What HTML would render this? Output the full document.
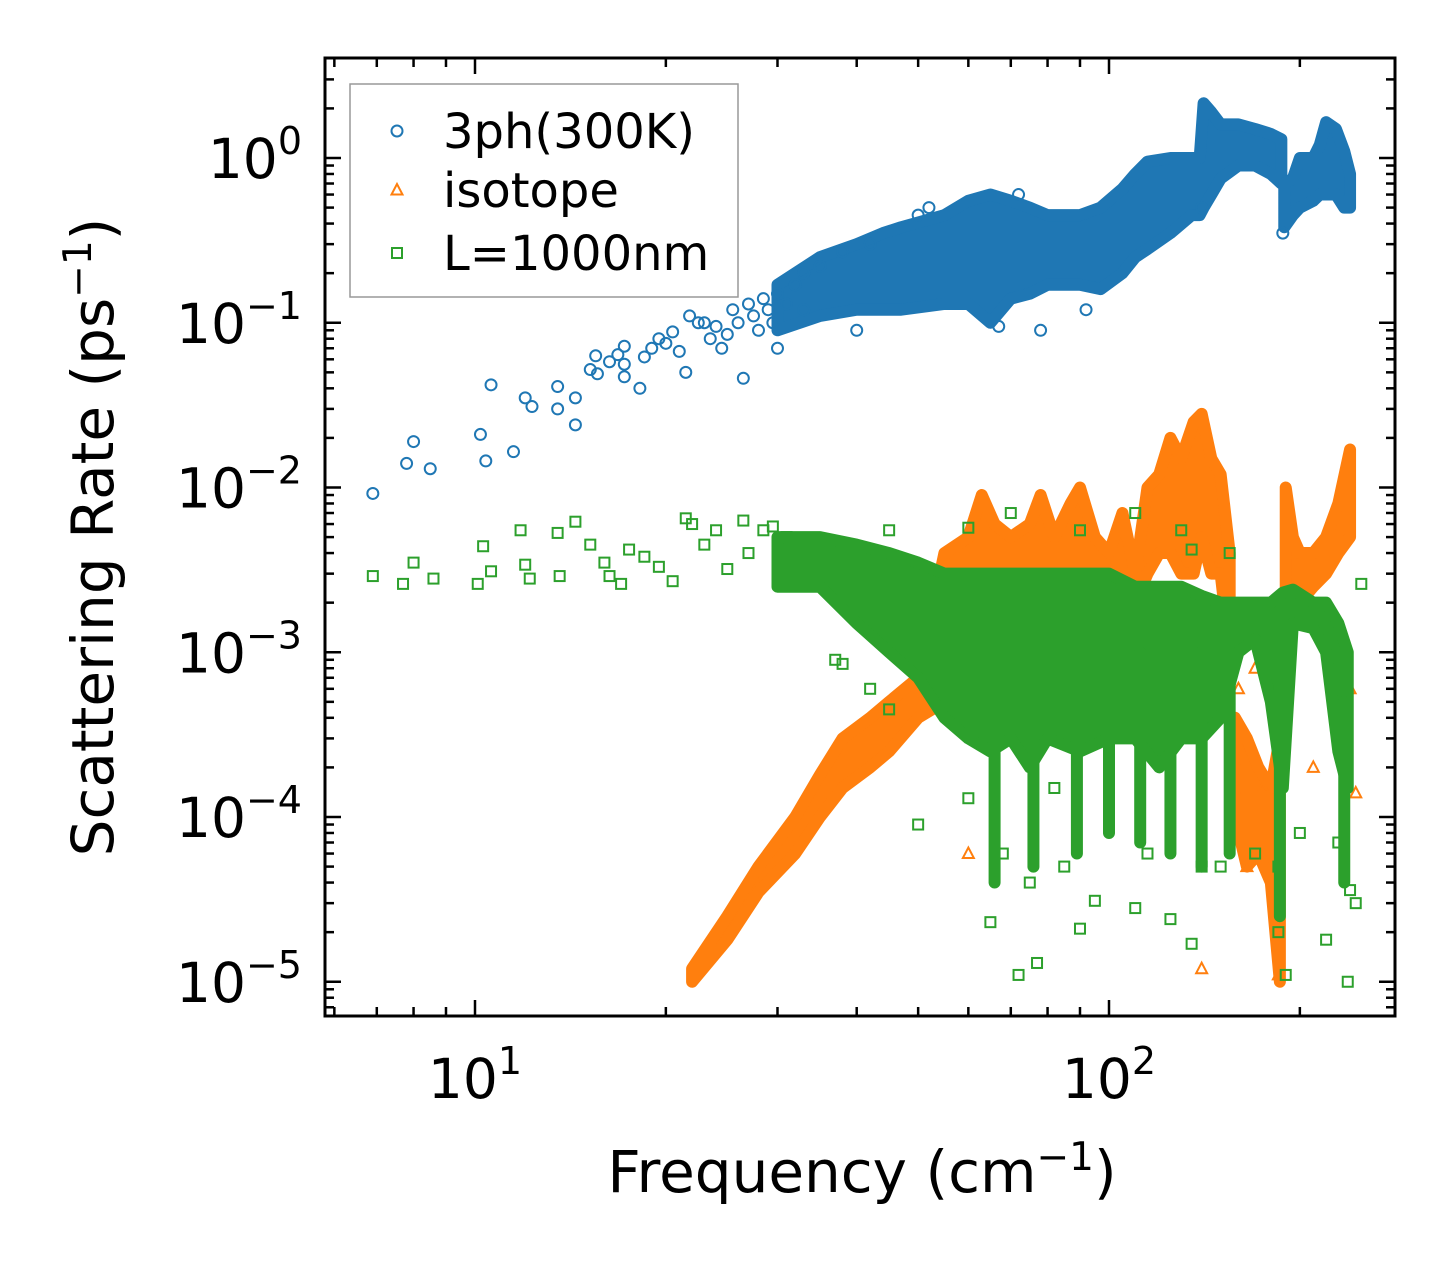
<!DOCTYPE html>
<html><head><meta charset="utf-8"><style>
html,body{margin:0;padding:0;background:#fff;}
svg{display:block;font-family:"DejaVu Sans","Liberation Sans",sans-serif;}
</style></head><body>
<svg id="chart" width="1455" height="1265" viewBox="0 0 1455 1265" xmlns="http://www.w3.org/2000/svg">
<rect width="1455" height="1265" fill="#fff"/>
<g id="plot"></g>
<g id="axes"></g>
<g id="legend"></g>
<text x="862" y="1192" font-size="58" text-anchor="middle">Frequency (cm<tspan dy="-22" font-size="39">−1</tspan><tspan dy="22">)</tspan></text>
<text transform="translate(113,537) rotate(-90)" font-size="58" text-anchor="middle">Scattering Rate (ps<tspan dy="-22" font-size="39">−1</tspan><tspan dy="22">)</tspan></text>
</svg>
<script>
// ---- data ----
const xTicks = [10, 100];
const xTickExp = ["1", "2"];
const yTicks = [1, 0.1, 0.01, 0.001, 0.0001, 0.00001];
const yTickExp = ["0", "−1", "−2", "−3", "−4", "−5"];
const seriesNames = ["3ph(300K)", "isotope", "L=1000nm"];

// dense bands: [freq, low, high]
const blueBandA = [[30,0.09,0.17],[35,0.11,0.25],[40,0.12,0.3],[44,0.12,0.35],[47,0.12,0.38],[55,0.13,0.45],[60,0.13,0.55],[65,0.1,0.6],[70,0.14,0.55],[75,0.15,0.5],[80,0.17,0.45],[90,0.17,0.45],[97,0.16,0.5],[105,0.2,0.65],[110,0.25,0.8],[115,0.28,0.95],[125,0.35,1.0],[135,0.45,1.0],[139,0.45,1.0],[141,0.5,2.15],[145,0.6,1.9],[150,0.75,1.6],[160,0.9,1.6],[170,0.9,1.5],[180,0.8,1.4],[187,0.7,1.3]];
const blueBandB = [[189,0.38,0.7],[195,0.45,0.75],[200,0.5,1.0],[210,0.55,1.0],[215,0.6,1.2],[220,0.6,1.65],[228,0.6,1.5],[235,0.5,1.1],[240,0.5,0.8]];
const bluePoints = [[6.9,9.2e-3],[7.8,1.4e-2],[8.0,1.9e-2],[8.5,1.3e-2],[10.2,2.1e-2],[10.4,1.45e-2],[10.6,4.2e-2],[11.5,1.65e-2],[12.0,3.5e-2],[12.3,3.1e-2],[13.5,4.1e-2],[13.5,3.0e-2],[14.4,3.5e-2],[14.4,2.4e-2],[15.2,5.2e-2],[15.5,6.3e-2],[15.6,4.9e-2],[16.3,5.8e-2],[16.8,6.4e-2],[17.2,7.2e-2],[17.2,5.6e-2],[17.2,4.7e-2],[18.2,4.0e-2],[18.5,6.2e-2],[19,7e-2],[19.5,8e-2],[20,7.5e-2],[20.5,8.8e-2],[21,6.7e-2],[21.5,5e-2],[21.8,0.11],[22.5,0.1],[23,0.1],[23.5,0.08],[24,0.095],[24.5,0.07],[25,0.085],[25.5,0.12],[26,0.1],[26.5,0.046],[27,0.13],[27.5,0.11],[28,0.09],[28.5,0.14],[29,0.12],[29.5,0.1],[30,0.15],[30,0.07],[31,0.13],[32,0.17],[33,0.12],[33,0.2],[35,0.22],[38,0.27],[40,0.09],[42,0.3],[50,0.45],[52,0.5],[67,0.095],[72,0.6],[78,0.09],[92,0.12],[140,0.5],[188,0.35]];

const orangeBandA = [[22,1e-5,1.2e-5],[25,1.8e-5,2.5e-5],[28,3.5e-5,5e-5],[32,6e-5,1e-4],[35,1e-4,1.8e-4],[38,1.5e-4,3e-4],[42,2e-4,4e-4],[45,2.5e-4,5e-4],[50,4e-4,7e-4],[55,5e-4,4e-3],[60,5e-4,5e-3],[63,1e-3,9e-3],[66,1e-3,6e-3],[70,1e-3,5e-3],[75,1e-3,6e-3],[78,1.5e-3,9e-3],[82,1e-3,5e-3],[87,1.5e-3,8e-3],[90,2e-3,1e-2],[95,1.5e-3,5e-3],[100,2e-3,4e-3],[105,2e-3,7e-3],[110,2e-3,3e-3],[115,3e-3,1e-2],[120,4e-3,1.2e-2],[125,4e-3,2e-2],[130,3e-3,1.5e-2],[136,3e-3,2.5e-2],[140,5e-3,2.8e-2],[145,3e-3,1.5e-2],[150,3e-3,1.2e-2],[155,1e-3,4e-3]];
const orangeBandB = [[158,1e-4,4e-4],[165,5e-5,3e-4],[172,6e-5,2e-4],[180,4e-5,1.5e-4],[186,1e-5,3e-4]];
const orangeBandC = [[190,2.5e-3,1e-2],[195,2e-3,5e-3],[200,2e-3,4e-3],[210,2.5e-3,4e-3],[220,3e-3,5e-3],[230,4e-3,8e-3],[240,5e-3,1.7e-2]];
const orangePoints = [[60,6e-5],[140,1.2e-5],[165,5e-5],[185,1.1e-5],[245,1.4e-4],[210,2e-4],[175,1.5e-4],[160,6e-4],[170,8e-4],[185,4e-4],[240,6e-4]];

const greenBand = [[30,2.5e-3,5e-3],[35,2.5e-3,5e-3],[40,1.5e-3,4.5e-3],[45,1e-3,4e-3],[50,7e-4,3.5e-3],[55,4e-4,3e-3],[60,3e-4,3e-3],[65,2.5e-4,3e-3],[70,3e-4,3e-3],[75,2e-4,3e-3],[80,3e-4,3e-3],[90,2.5e-4,3e-3],[100,3e-4,3e-3],[110,3e-4,2.5e-3],[120,2e-4,2.5e-3],[130,3e-4,2.5e-3],[140,3e-4,2.2e-3],[150,4e-4,2e-3],[160,1e-3,2e-3],[170,1.2e-3,2e-3],[180,5e-4,2e-3],[188,1.5e-4,2.3e-3],[195,1.5e-3,2.4e-3],[210,1.4e-3,2e-3],[220,1e-3,2e-3],[230,2.5e-4,1.5e-3],[238,1.5e-4,1e-3]];
const greenSpikes = [[66,4e-5,1e-3],[76,5e-5,1e-3],[89,6e-5,1e-3],[100,8e-5,1e-3],[112,7e-5,1e-3],[125,6e-5,1e-3],[140,5e-5,1e-3],[155,6e-5,1e-3],[186,2.5e-5,1e-3],[235,4e-5,5e-4]];
const greenPoints = [[6.9,2.9e-3],[7.7,2.6e-3],[8.0,3.5e-3],[8.6,2.8e-3],[10.1,2.6e-3],[10.3,4.4e-3],[10.6,3.1e-3],[11.8,5.5e-3],[12,3.4e-3],[12.2,2.8e-3],[13.5,5.3e-3],[13.6,2.9e-3],[14.4,6.2e-3],[15.2,4.5e-3],[16,3.5e-3],[16.3,2.9e-3],[17,2.6e-3],[17.5,4.2e-3],[18.5,3.8e-3],[19.5,3.3e-3],[20.5,2.7e-3],[21.5,6.5e-3],[22,6e-3],[23,4.5e-3],[24,5.5e-3],[25,3.2e-3],[26.5,6.3e-3],[27,4e-3],[28.5,5.5e-3],[29.5,5.8e-3],[31,5e-3],[37,9e-4],[38,8.5e-4],[42,6e-4],[45,4.5e-4],[50,9e-5],[65,2.3e-5],[72,1.1e-5],[77,1.3e-5],[85,5e-5],[90,2.1e-5],[95,3.1e-5],[110,2.8e-5],[125,2.4e-5],[135,1.7e-5],[150,5e-5],[185,2e-5],[190,1.1e-5],[200,8e-5],[220,1.8e-5],[238,1e-5],[240,3.6e-5],[245,3e-5],[60,1.3e-4],[68,6e-5],[75,4e-5],[82,1.5e-4],[100,1e-4],[115,6e-5],[140,5e-5],[170,6e-5],[185,5e-5],[230,7e-5],[45,5.5e-3],[60,5.7e-3],[70,7e-3],[90,5.5e-3],[110,7e-3],[130,5.5e-3],[135,4.2e-3],[155,4e-3],[250,2.6e-3]];

// ---- axis functions ----
const L=325,R=1395,T=58,B=1016;
function xs(f){return 475+634*(Math.log10(f)-1);}
function ys(r){return 158-164.75*Math.log10(r);}
const NS="http://www.w3.org/2000/svg";
function mk(tag,attrs,parent){const e=document.createElementNS(NS,tag);for(const k in attrs)e.setAttribute(k,attrs[k]);parent.appendChild(e);return e;}
const plot=document.getElementById('plot'),axes=document.getElementById('axes'),legend=document.getElementById('legend');
const colors=["#1f77b4","#ff7f0e","#2ca02c"];

function band(data,color,name){
  const top=data.map(d=>xs(d[0])+','+ys(d[2]));
  const bot=data.slice().reverse().map(d=>xs(d[0])+','+ys(d[1]));
  const p=mk('polygon',{points:top.concat(bot).join(' '),fill:color,stroke:color,'stroke-width':12,'stroke-linejoin':'round'},plot);
  
  
}
function spikes(data,color,name){
  data.forEach(d=>{const l=mk('line',{x1:xs(d[0]),x2:xs(d[0]),y1:ys(d[1]),y2:ys(d[2]),stroke:color,'stroke-width':12,'stroke-linecap':'round'},plot);
  
  });
}
function marker(kind,x,y,color,parent){
  let e;
  if(kind===0) e=mk('circle',{cx:x,cy:y,r:5.5,fill:'none',stroke:color,'stroke-width':2},parent);
  else if(kind===1) e=mk('polygon',{points:`${x},${y-6} ${x-5.5},${y+4.5} ${x+5.5},${y+4.5}`,fill:'none',stroke:color,'stroke-width':2},parent);
  else e=mk('rect',{x:x-5,y:y-5,width:10,height:10,fill:'none',stroke:color,'stroke-width':2},parent);
  return e;
}
function points(data,kind,color,name){
  data.forEach(d=>{const e=marker(kind,xs(d[0]),ys(d[1]),color,plot);
  
  });
}
band(blueBandA,colors[0],'3ph-band');
band(blueBandB,colors[0],'3ph-band');
points(bluePoints,0,colors[0],'3ph-point');
band(orangeBandA,colors[1],'isotope-band');
band(orangeBandB,colors[1],'isotope-band');
band(orangeBandC,colors[1],'isotope-band');
points(orangePoints,1,colors[1],'isotope-point');
band(greenBand,colors[2],'boundary-band');
spikes(greenSpikes,colors[2],'boundary-spike');
points(greenPoints,2,colors[2],'boundary-point');

// clip
const cp=mk('clipPath',{id:'clip'},document.getElementById('chart'));
mk('rect',{x:L,y:T,width:R-L,height:B-T},cp);
plot.setAttribute('clip-path','url(#clip)');

// frame
const fr=mk('rect',{x:L,y:T,width:R-L,height:B-T,fill:'none',stroke:'#000','stroke-width':3},axes);


function tick(x1,y1,x2,y2,name){const t=mk('line',{x1,y1,x2,y2,stroke:'#000','stroke-width':2.5},axes);

}
// x ticks
for(let dec=1;dec<=100;dec*=10){for(let m=1;m<=9;m++){const f=dec*m;const x=xs(f);if(x<L+1||x>R-1)continue;const len=m===1?16:9;
 tick(x,B,x,B-len,'x-tick');tick(x,T,x,T+len,'x-tick');}}
xTicks.forEach((f,i)=>{const t=mk('text',{x:xs(f),y:B+82,'font-size':55,'text-anchor':'middle'},axes);
 
 
 t.innerHTML=`10<tspan dy="-24" font-size="38">${xTickExp[i]}</tspan>`;});
// y ticks
for(let e=-6;e<=0;e++){for(let m=1;m<=9;m++){const r=m*Math.pow(10,e);const y=ys(r);if(y<T+1||y>B-1)continue;const len=m===1?16:9;
 tick(L,y,L+len,y,'y-tick');tick(R,y,R-len,y,'y-tick');}}
yTicks.forEach((r,i)=>{const t=mk('text',{x:302,y:ys(r)+20,'font-size':55,'text-anchor':'end'},axes);
 
 
 t.innerHTML=`10<tspan dy="-24" font-size="38">${yTickExp[i]}</tspan>`;});

// legend
const lb=mk('rect',{x:350,y:84,width:388,height:213,fill:'#fff',stroke:'#999','stroke-width':1.5},legend);


const rowsY=[131,190,253];
seriesNames.forEach((n,i)=>{
 const g=mk('g',{},legend);
 
 
 marker(i,397,rowsY[i],colors[i],g);
 const t=mk('text',{x:443,y:rowsY[i]+17,'font-size':48},g);
 t.textContent=n;
});
</script>
</body></html>
